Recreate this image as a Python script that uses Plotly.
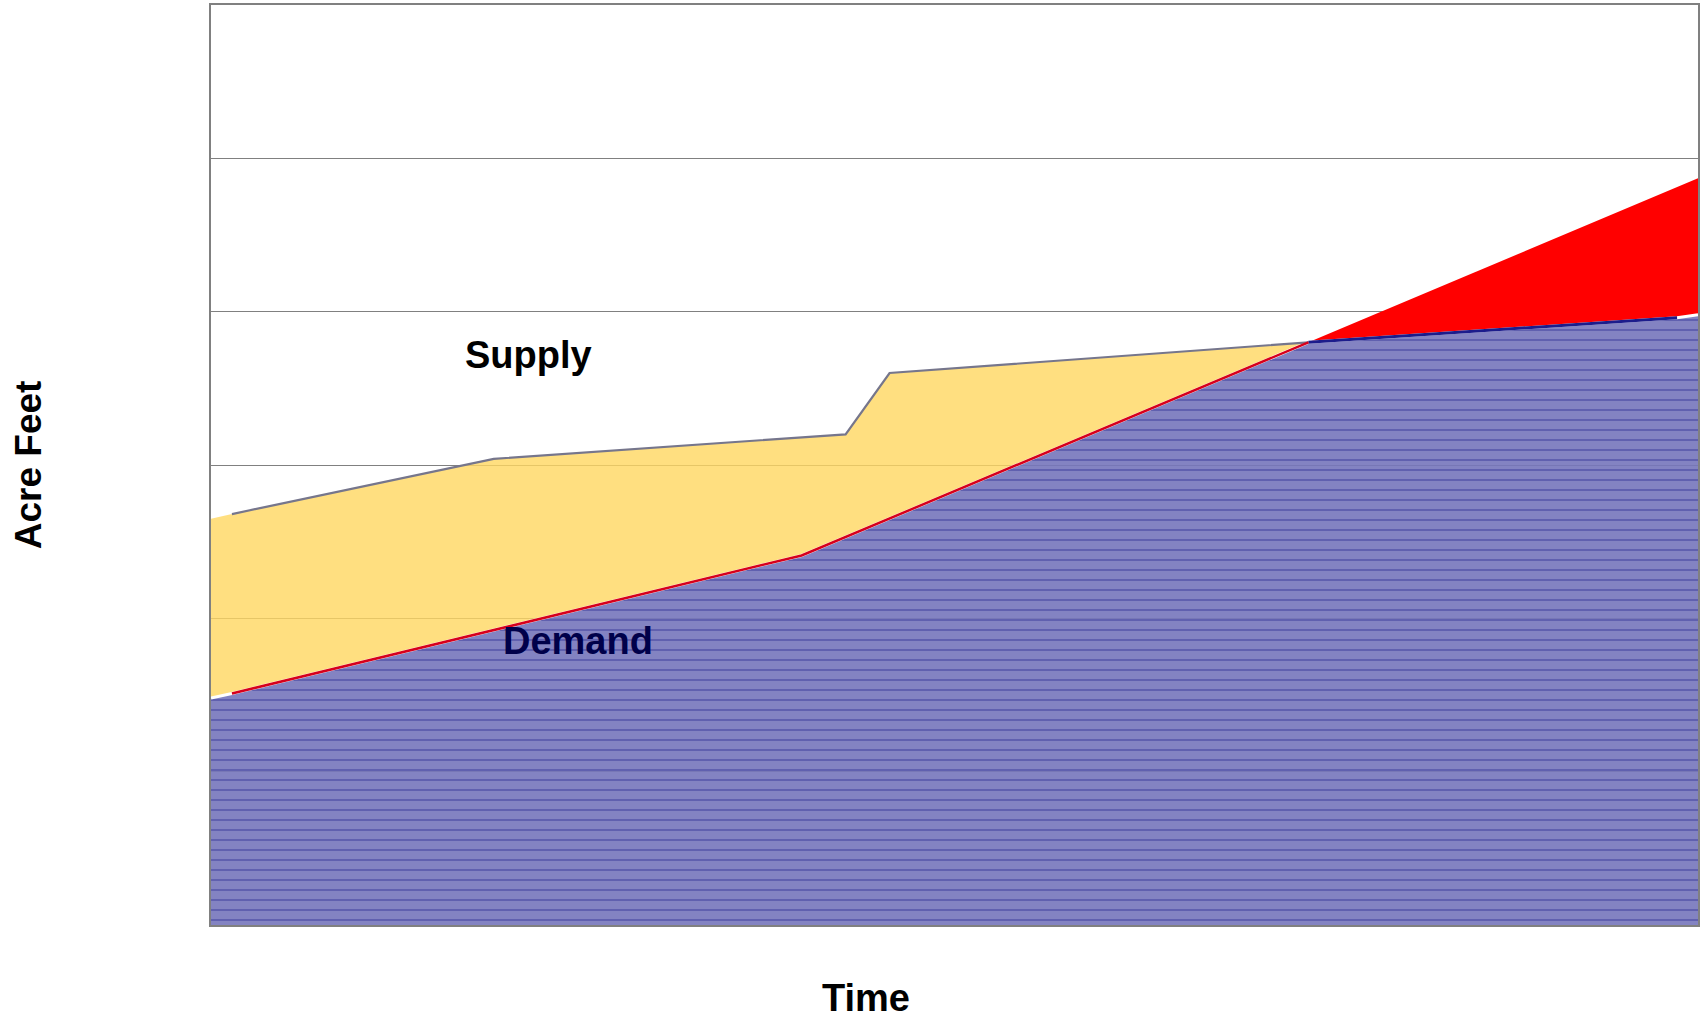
import plotly.graph_objects as go

# Supply and demand curves (acre feet, arbitrary units) over time
supply_t = [0, 1, 13.5, 30.3, 32.4, 52.4, 70, 71]
supply = [2.65, 2.68, 3.04, 3.20, 3.60, 3.80, 3.96, 3.98]
demand_t = [0, 1, 28.2, 52.4, 71]
demand = [1.48, 1.51, 2.41, 3.80, 4.87]

# time at which demand overtakes supply
cross_t = 52.4
# drawn line segments start/stop inside the plot edges
line_start, line_end = 1, 70

s_pts = list(zip(supply_t, supply))
d_pts = list(zip(demand_t, demand))
s_before = [p for p in s_pts if p[0] <= cross_t]
s_after = [p for p in s_pts if p[0] >= cross_t]
d_before = [p for p in d_pts if p[0] <= cross_t]
d_after = [p for p in d_pts if p[0] >= cross_t]

fig = go.Figure()

# surplus: supply above demand
yel = s_before + d_before[::-1]
fig.add_trace(go.Scatter(
    x=[p[0] for p in yel], y=[p[1] for p in yel], mode="lines",
    fill="toself", fillcolor="rgba(255,215,96,0.8)", line=dict(width=0),
    hoverinfo="skip", showlegend=False))

# shortfall: demand above supply
red = d_after + s_after[::-1]
fig.add_trace(go.Scatter(
    x=[p[0] for p in red], y=[p[1] for p in red], mode="lines",
    fill="toself", fillcolor="#ff0000", line=dict(width=0),
    hoverinfo="skip", showlegend=False))

# demand that is met (the lower of the two curves)
met = d_before + s_after[1:]
fig.add_trace(go.Scatter(
    x=[p[0] for p in met], y=[p[1] for p in met], mode="lines",
    fill="tozeroy", fillcolor="rgba(118,118,188,0.9)",
    fillpattern=dict(shape="-", size=10, solidity=0.15,
                     fgcolor="rgba(25,25,135,0.9)",
                     bgcolor="rgba(118,118,188,0.9)"),
    line=dict(color="white", width=3),
    hoverinfo="skip", showlegend=False))

# supply line up to the crossing
sl = [p for p in s_before if p[0] >= line_start]
fig.add_trace(go.Scatter(
    x=[p[0] for p in sl], y=[p[1] for p in sl], mode="lines",
    line=dict(color="#76768c", width=2.2), hoverinfo="skip", showlegend=False))

# supply line after the crossing
sa = [p for p in s_after if p[0] <= line_end]
fig.add_trace(go.Scatter(
    x=[p[0] for p in sa], y=[p[1] for p in sa], mode="lines",
    line=dict(color="#1c1c8c", width=3), hoverinfo="skip", showlegend=False))

# demand line up to the crossing
dl = [p for p in d_before if p[0] >= line_start]
fig.add_trace(go.Scatter(
    x=[p[0] for p in dl], y=[p[1] for p in dl], mode="lines",
    line=dict(color="#d6001c", width=2.5), hoverinfo="skip", showlegend=False))

font_main = "Arial, Liberation Sans, sans-serif"

fig.add_annotation(x=15.16, y=3.72, xref="x", yref="y", text="<b>Supply</b>",
                   xanchor="center", yanchor="middle", showarrow=False,
                   font=dict(family=font_main, size=38, color="black"))
fig.add_annotation(x=17.5, y=1.85, xref="x", yref="y", text="<b>Demand</b>",
                   xanchor="center", yanchor="middle", showarrow=False,
                   font=dict(family=font_main, size=38, color="#00004a"))
fig.add_annotation(x=0.4406, y=-0.0793, xref="paper", yref="paper", text="<b>Time</b>",
                   xanchor="center", yanchor="middle", showarrow=False,
                   font=dict(family=font_main, size=38, color="black"))
fig.add_annotation(x=-0.1229, y=0.5, xref="paper", yref="paper", text="<b>Acre Feet</b>",
                   xanchor="center", yanchor="middle", textangle=-90, showarrow=False,
                   font=dict(family=font_main, size=37, color="black"))

fig.update_layout(
    width=1701, height=1019,
    margin=dict(l=211, r=1, t=5, b=94),
    paper_bgcolor="white", plot_bgcolor="white",
    xaxis=dict(range=[0, 71], showgrid=False, showticklabels=False, ticks="",
               zeroline=False, showline=True, mirror=True,
               linecolor="#808080", linewidth=2),
    yaxis=dict(range=[0, 6], dtick=1, showgrid=True, gridcolor="#808080",
               gridwidth=1, showticklabels=False, ticks="", zeroline=False,
               showline=True, mirror=True, linecolor="#808080", linewidth=2),
)

fig.write_html("out.html")
